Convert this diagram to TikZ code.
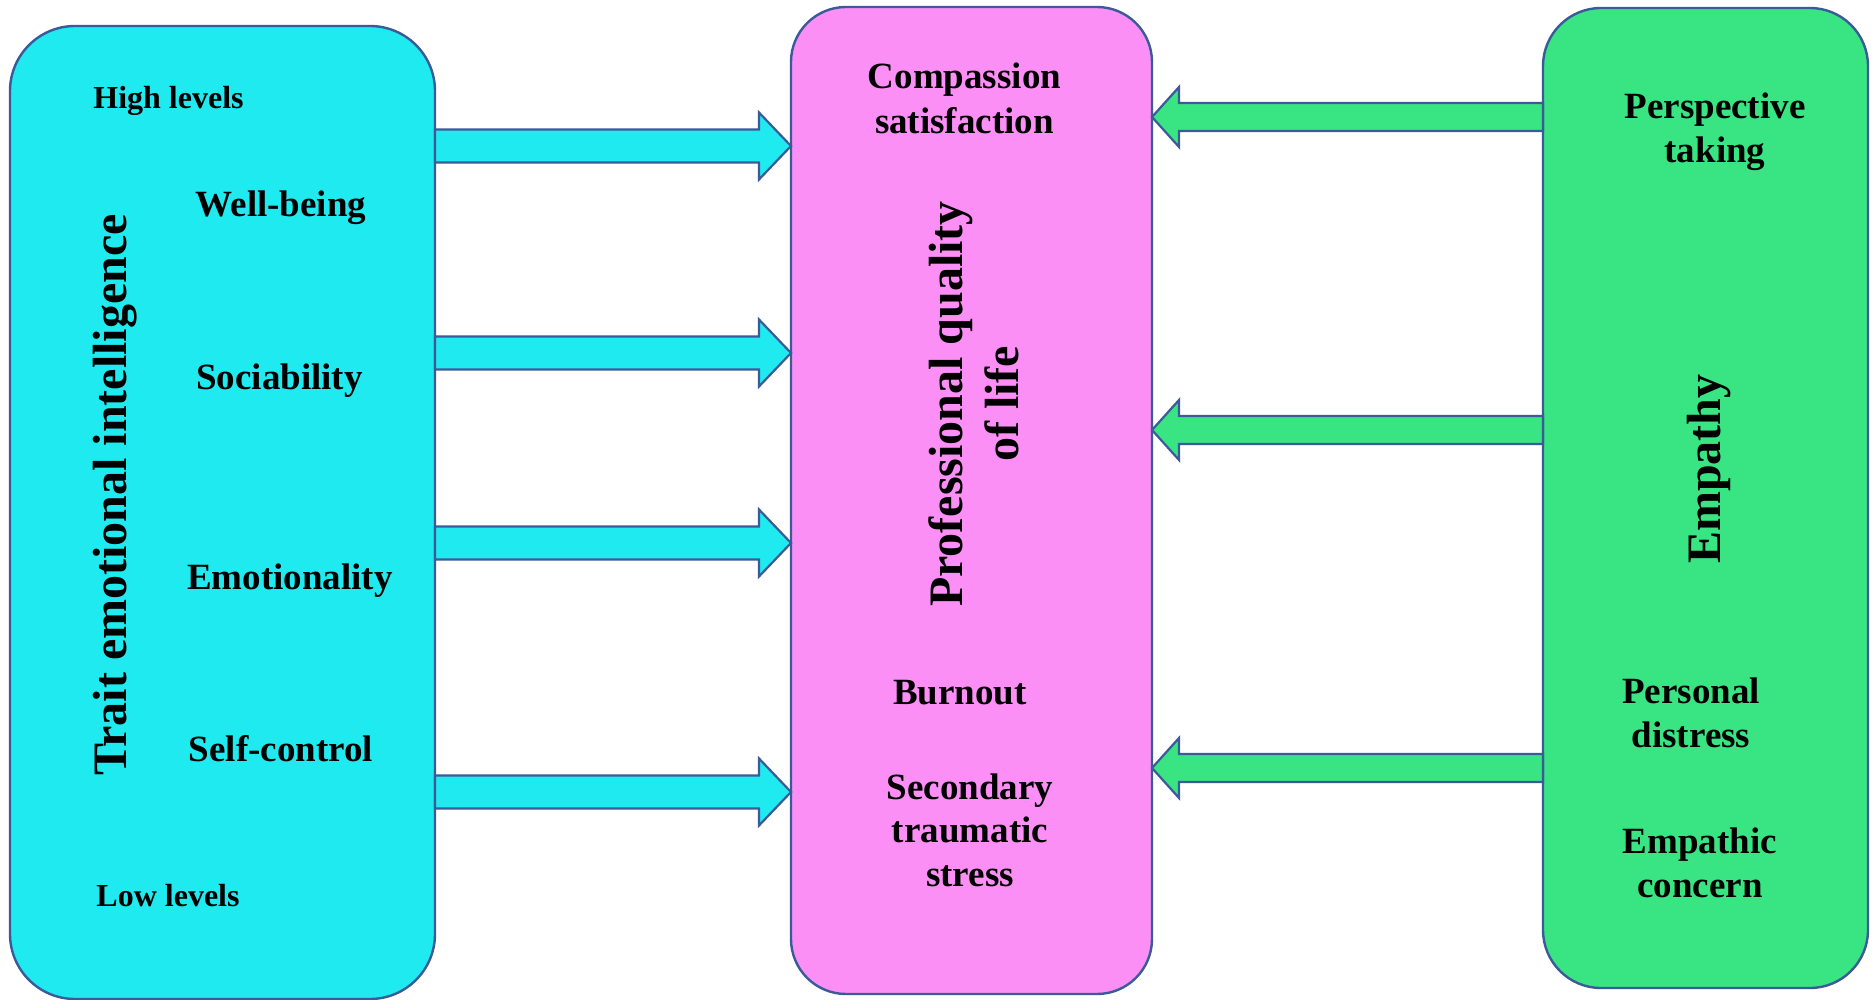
\documentclass[tikz,border=0pt]{standalone}
\usepackage{fontspec}
\setmainfont{Liberation Serif}
\usetikzlibrary{calc}

\definecolor{teiFill}{HTML}{1FEAF0}
\definecolor{proqolFill}{HTML}{FB8FF5}
\definecolor{empFill}{HTML}{38E582}
\definecolor{edgeBlue}{HTML}{3B5A98}

% block arrow from a tail point to a tip point
% #1 style, #2 tail, #3 tip, #4 shaft half-width, #5 head half-width, #6 head length
\newcommand\blockarrow[6]{%
  \coordinate (#3-hb) at ($(#3)!#6!(#2)$);
  \draw[#1] ($(#2)!#4!90:(#3)$) -- ($(#3-hb)!#4!90:(#3)$)
    -- ($(#3-hb)!#5!90:(#3)$) -- (#3) -- ($(#3-hb)!#5!-90:(#3)$)
    -- ($(#3-hb)!#4!-90:(#3)$) -- ($(#2)!#4!-90:(#3)$) -- cycle;
}

\tikzset{
  panel/.style={draw=edgeBlue, line width=2.4pt, rectangle, inner sep=0pt, outer sep=0pt},
  lbl/.style={font=\bfseries\fontsize{37}{44}\selectfont, align=center, inner sep=0pt, text=black},
  smalllbl/.style={font=\bfseries\fontsize{32}{38}\selectfont, inner sep=0pt, text=black},
  titlelbl/.style={font=\bfseries\fontsize{48}{56}\selectfont, align=center, inner sep=0pt, rotate=90, text=black},
  cyanarrow/.style={draw=edgeBlue, line width=2.2pt, fill=teiFill, line join=miter},
  greenarrow/.style={draw=edgeBlue, line width=2.2pt, fill=empFill, line join=miter}
}

\begin{document}
\begin{tikzpicture}[x=1pt, y=-1pt]
\useasboundingbox (0,0) rectangle (1875,1000);

% the three panels
\node[panel, fill=teiFill, rounded corners=65pt, minimum width=425pt, minimum height=973pt]
  (L) at (222.5,512.5) {};
\node[panel, fill=proqolFill, rounded corners=55pt, minimum width=361pt, minimum height=987pt]
  (M) at (971.5,500.5) {};
\node[panel, fill=empFill, rounded corners=58pt, minimum width=325pt, minimum height=980pt]
  (R) at (1705.5,498) {};

% arrow end points on the panel edges
\coordinate (a1t) at (L.east |- 0,146);  \coordinate (a1h) at (M.west |- 0,146);
\coordinate (a2t) at (L.east |- 0,353);  \coordinate (a2h) at (M.west |- 0,353);
\coordinate (a3t) at (L.east |- 0,543);  \coordinate (a3h) at (M.west |- 0,543);
\coordinate (a4t) at (L.east |- 0,792);  \coordinate (a4h) at (M.west |- 0,792);
\coordinate (b1t) at (R.west |- 0,117);  \coordinate (b1h) at (M.east |- 0,117);
\coordinate (b2t) at (R.west |- 0,430);  \coordinate (b2h) at (M.east |- 0,430);
\coordinate (b3t) at (R.west |- 0,768);  \coordinate (b3h) at (M.east |- 0,768);

\blockarrow{cyanarrow}{a1t}{a1h}{16.5pt}{33.5pt}{32pt}
\blockarrow{cyanarrow}{a2t}{a2h}{16.5pt}{33.5pt}{32pt}
\blockarrow{cyanarrow}{a3t}{a3h}{16.5pt}{33.5pt}{32pt}
\blockarrow{cyanarrow}{a4t}{a4h}{16.5pt}{33.5pt}{32pt}
\blockarrow{greenarrow}{b1t}{b1h}{14pt}{30pt}{27pt}
\blockarrow{greenarrow}{b2t}{b2h}{14pt}{30pt}{27pt}
\blockarrow{greenarrow}{b3t}{b3h}{14pt}{30pt}{27pt}

% trait emotional intelligence panel
\node[titlelbl, anchor=base] (tei) at (126,495) {Trait emotional intelligence};
\node[smalllbl, anchor=base] (high) at (168.5,109) {High levels};
\node[lbl, anchor=base] (wb) at (281,217) {Well-being};
\node[lbl, anchor=base] (soc) at (279.5,389) {Sociability};
\node[lbl, anchor=base] (emo) at (290,589) {Emotionality};
\node[lbl, anchor=base] (sc) at (281,761) {Self-control};
\node[smalllbl, anchor=base] (low) at (168,906) {Low levels};

% professional quality of life panel
\node[lbl, font=\bfseries\fontsize{37}{45}\selectfont] (cs) at (964.5,98) {Compassion\\satisfaction};
\node[titlelbl, font=\bfseries\fontsize{48}{56}\selectfont] (pql) at (974,404) {Professional quality\\of life};
\node[lbl, anchor=base] (bo) at (960,704) {Burnout};
\node[lbl, font=\bfseries\fontsize{37}{43.5}\selectfont] (sts) at (970,830) {Secondary\\traumatic\\stress};

% empathy panel
\node[lbl, font=\bfseries\fontsize{37}{44}\selectfont] (pt) at (1715,131.5) {Perspective\\taking};
\node[titlelbl, anchor=base] (emp) at (1720,469) {Empathy};
\node[lbl] (pd) at (1691,713) {Personal\\distress};
\node[lbl] (ec) at (1700,863) {Empathic\\concern};
\end{tikzpicture}
\end{document}
